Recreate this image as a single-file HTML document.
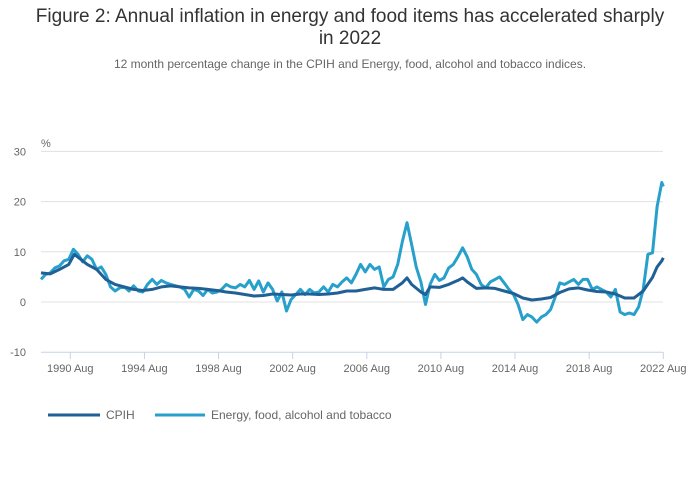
<!DOCTYPE html>
<html><head><meta charset="utf-8"><style>
body{margin:0;background:#fff;font-family:"Liberation Sans",sans-serif;}
#wrap{position:relative;width:700px;height:502px;overflow:hidden}
.t{position:absolute;left:0;width:700px;text-align:center;color:#333}
</style></head><body>
<div id="wrap">
<div class="t" style="top:6px;font-size:19px;line-height:22px">Figure 2: Annual inflation in energy and food items has accelerated sharply<br>in 2022</div>
<div class="t" style="top:57px;font-size:12px;color:#666">12 month percentage change in the CPIH and Energy, food, alcohol and tobacco indices.</div>
<svg id="chart" width="700" height="502" style="position:absolute;left:0;top:0"></svg>
</div>
<script>
const yTicks=[-10,0,10,20,30];
const xTickYears=[1990,1994,1998,2002,2006,2010,2014,2018,2022];
const xTickLabels=["1990 Aug","1994 Aug","1998 Aug","2002 Aug","2006 Aug","2010 Aug","2014 Aug","2018 Aug","2022 Aug"];
const cpihDates=[1989,1989.5,1990,1990.5,1990.8,1991.5,1992,1992.5,1993,1993.5,1994,1994.5,1995,1995.5,1996,1996.5,1997,1997.5,1998,1998.5,1999,1999.5,2000,2000.5,2001,2001.5,2002,2002.5,2003,2003.5,2004,2004.5,2005,2005.5,2006,2006.5,2007,2007.5,2008,2008.5,2008.75,2009,2009.5,2009.75,2010,2010.5,2011,2011.5,2011.75,2012,2012.5,2013,2013.5,2014,2014.5,2015,2015.5,2016,2016.5,2017,2017.5,2018,2018.5,2019,2019.5,2020,2020.5,2021,2021.5,2022,2022.25,2022.5,2022.583];
const cpihValues=[5.8,5.6,6.5,7.5,9.5,7.5,6.5,4.5,3.5,3,2.5,2.3,2.5,3,3.2,3,2.8,2.7,2.5,2.3,2,1.8,1.5,1.2,1.3,1.6,1.5,1.4,1.6,1.6,1.5,1.6,1.8,2.2,2.2,2.5,2.8,2.5,2.5,3.8,4.8,3.5,2,1.5,3,2.9,3.5,4.3,4.8,4,2.7,2.8,2.7,2.2,1.7,0.8,0.4,0.6,0.9,1.9,2.6,2.8,2.4,2.1,2,1.6,0.8,0.8,2.2,4.9,7,8.2,8.8];
const efatDates=[1989,1989.25,1989.5,1989.75,1990,1990.25,1990.5,1990.75,1991,1991.25,1991.5,1991.75,1992,1992.25,1992.5,1992.75,1993,1993.25,1993.5,1993.75,1994,1994.25,1994.5,1994.75,1995,1995.25,1995.5,1995.75,1996,1996.5,1996.75,1997,1997.25,1997.5,1997.75,1998,1998.25,1998.5,1998.75,1999,1999.25,1999.5,1999.75,2000,2000.25,2000.5,2000.75,2001,2001.25,2001.5,2001.75,2002,2002.25,2002.5,2002.75,2003,2003.25,2003.5,2003.75,2004,2004.25,2004.5,2004.75,2005,2005.25,2005.5,2005.75,2006,2006.25,2006.5,2006.75,2007,2007.25,2007.5,2007.75,2008,2008.25,2008.5,2008.75,2009,2009.25,2009.5,2009.75,2010,2010.25,2010.5,2010.75,2011,2011.25,2011.5,2011.75,2012,2012.25,2012.5,2012.75,2013,2013.25,2013.5,2013.75,2014,2014.25,2014.5,2014.75,2015,2015.25,2015.5,2015.75,2016,2016.25,2016.5,2016.75,2017,2017.25,2017.5,2017.75,2018,2018.25,2018.5,2018.75,2019,2019.25,2019.5,2019.75,2020,2020.25,2020.5,2020.75,2021,2021.25,2021.5,2021.75,2022,2022.25,2022.5,2022.583];
const efatValues=[4.5,5.5,5.8,6.8,7.2,8.2,8.5,10.5,9.5,8,9.2,8.5,6.5,7,5.5,3,2.2,2.8,3,2.2,3.2,2.2,2,3.5,4.5,3.5,4.3,3.8,3.5,3,2.5,1,2.5,2.2,1.3,2.5,1.8,2,2.5,3.5,3,2.8,3.5,3,4.3,2.5,4.2,2,3.8,2.5,0.2,2,-1.8,0.5,1.5,2.5,1.5,2.5,1.8,2,3,2,3.5,3,4,4.8,3.8,5.5,7.5,6,7.5,6.5,7,3,4.5,5,7.5,12,15.8,11.5,7,4,-0.5,3.5,5.5,4.3,4.8,6.8,7.5,9,10.8,9,6.5,5.5,3.5,2.8,4,4.5,5,3.8,2.5,1.5,-0.5,-3.5,-2.5,-3,-4,-3,-2.5,-1.5,1,3.8,3.5,4,4.5,3.5,4.5,4.5,2.5,3,2.5,2,1,2.5,-2,-2.5,-2.2,-2.5,-1,2.5,9.5,9.8,19,23.8,23];
const NS="http://www.w3.org/2000/svg";
const svg=document.getElementById('chart');
const X0=41,X1=663,T0=1989,XR0=70.3,XR1=663.3;
function xs(t){return XR0+(t-1990.583)*(XR1-XR0)/32;}
function ys(v){return 302-v*5.02;}
function mk(tag,a){const e=document.createElementNS(NS,tag);for(const k in a)e.setAttribute(k,a[k]);svg.appendChild(e);return e;}
yTicks.forEach(v=>{
  const l=mk('line',{x1:X0,x2:X1,y1:ys(v),y2:ys(v),stroke:v===-10?'#c6d3e6':'#e0e0e0','stroke-width':1});
  
  
  const t=mk('text',{x:26,y:ys(v)+4,'text-anchor':'end','font-size':11,fill:'#666','font-family':'Liberation Sans, sans-serif'});
  t.textContent=v;
  
  
});
const pu=mk('text',{x:41,y:147,'font-size':11,fill:'#666','font-family':'Liberation Sans, sans-serif'});
pu.textContent='%';


xTickYears.forEach((yr,i)=>{
  const x=xs(yr+0.583);
  const l=mk('line',{x1:x,x2:x,y1:352,y2:359,stroke:'#c6d3e6','stroke-width':1});
  
  
  const t=mk('text',{x:x,y:372,'text-anchor':'middle','font-size':11,fill:'#666','font-family':'Liberation Sans, sans-serif'});
  t.textContent=xTickLabels[i];
  
  
});
function line(d,v,c,name){
  const pts=d.map((t,i)=>xs(t).toFixed(1)+','+ys(v[i]).toFixed(1)).join(' ');
  const p=mk('polyline',{points:pts,fill:'none',stroke:c,'stroke-width':3,'stroke-linejoin':'round'});
  
  
}
line(efatDates,efatValues,'#27a0cc','energy-food-line');
line(cpihDates,cpihValues,'#206095','cpih-line');
[[48,100,'#206095','CPIH',106,'legend-cpih'],[155,205,'#27a0cc','Energy, food, alcohol and tobacco',211,'legend-energy-food']].forEach(a=>{
  const l=mk('line',{x1:a[0],x2:a[1],y1:415,y2:415,stroke:a[2],'stroke-width':3});
  
  
  const t=mk('text',{x:a[4],y:419,'font-size':12,fill:'#666','font-family':'Liberation Sans, sans-serif'});
  t.textContent=a[3];
  
  
});
</script>
</body></html>
